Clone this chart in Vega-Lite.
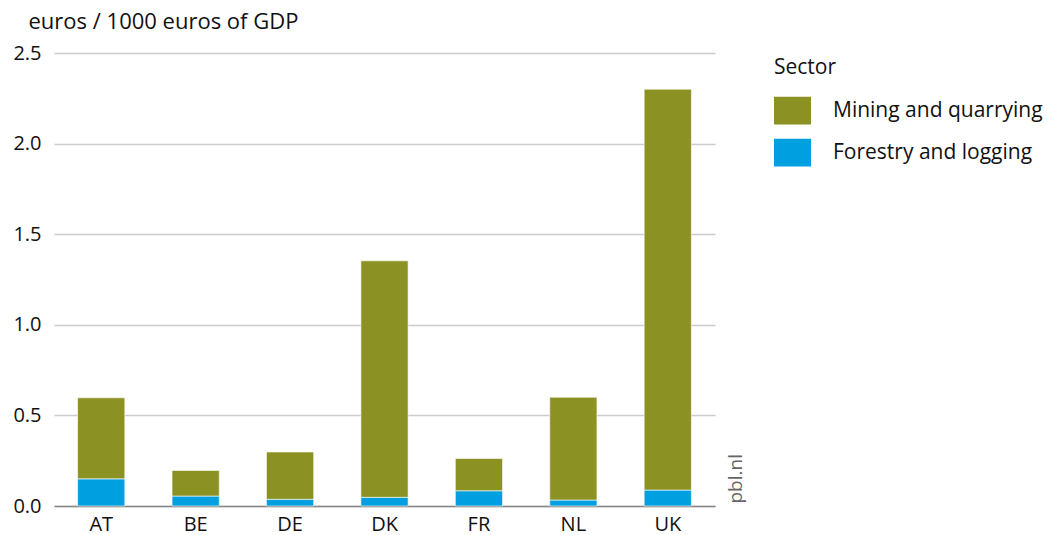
{
  "$schema": "https://vega.github.io/schema/vega-lite/v6.json",
  "width": 661,
  "height": 453,
  "autosize": {"type": "none"},
  "padding": {"left": 54, "top": 53, "right": 332, "bottom": 29},
  "background": "white",
  "config": {
    "font": "Open Sans",
    "view": {"stroke": null}
  },
  "data": {
    "values": [
      {"country": "AT", "sector": "Forestry and logging", "value": 0.15},
      {"country": "AT", "sector": "Mining and quarrying", "value": 0.447},
      {"country": "BE", "sector": "Forestry and logging", "value": 0.055},
      {"country": "BE", "sector": "Mining and quarrying", "value": 0.141},
      {"country": "DE", "sector": "Forestry and logging", "value": 0.037},
      {"country": "DE", "sector": "Mining and quarrying", "value": 0.261},
      {"country": "DK", "sector": "Forestry and logging", "value": 0.048},
      {"country": "DK", "sector": "Mining and quarrying", "value": 1.305},
      {"country": "FR", "sector": "Forestry and logging", "value": 0.084},
      {"country": "FR", "sector": "Mining and quarrying", "value": 0.178},
      {"country": "NL", "sector": "Forestry and logging", "value": 0.033},
      {"country": "NL", "sector": "Mining and quarrying", "value": 0.567},
      {"country": "UK", "sector": "Forestry and logging", "value": 0.088},
      {"country": "UK", "sector": "Mining and quarrying", "value": 2.212}
    ]
  },
  "layer": [
    {
      "mark": {"type": "bar", "stroke": "white", "strokeWidth": 0.6},
      "encoding": {
        "x": {
          "field": "country",
          "type": "nominal",
          "sort": ["AT", "BE", "DE", "DK", "FR", "NL", "UK"],
          "scale": {"paddingInner": 0.5, "paddingOuter": 0.25},
          "axis": {
            "title": null,
            "labelAngle": 0,
            "labelFontSize": 20,
            "labelColor": "#111",
            "labelPadding": 8,
            "ticks": false,
            "domainColor": "#888",
            "domainWidth": 1.5
          }
        },
        "y": {
          "field": "value",
          "type": "quantitative",
          "stack": "zero",
          "scale": {"domain": [0, 2.5]},
          "axis": {
            "values": [0, 0.5, 1, 1.5, 2, 2.5],
            "format": ".1f",
            "title": "euros / 1000 euros of GDP",
            "titleAngle": 0,
            "titleAlign": "left",
            "titleBaseline": "middle",
            "titleX": -26,
            "titleY": -32,
            "titleFontSize": 22,
            "titleFontWeight": "normal",
            "titleColor": "#111",
            "labelFontSize": 20,
            "labelColor": "#111",
            "labelPadding": 13,
            "ticks": false,
            "domain": false,
            "gridColor": "#cccccc",
            "gridWidth": 1.5
          }
        },
        "color": {
          "field": "sector",
          "type": "nominal",
          "scale": {
            "domain": ["Mining and quarrying", "Forestry and logging"],
            "range": ["#8b9123", "#009fdf"]
          },
          "legend": {
            "title": "Sector",
            "orient": "none",
            "legendX": 720,
            "legendY": 4,
            "titleFontSize": 21,
            "titleFontWeight": "normal",
            "titleColor": "#111",
            "titlePadding": 14,
            "labelFontSize": 21,
            "labelLimit": 400,
            "labelColor": "#111",
            "labelOffset": 22,
            "symbolType": "M-1,-0.75H1V0.75H-1Z",
            "symbolSize": 1369,
            "symbolStrokeWidth": 0,
            "symbolOpacity": 1,
            "rowPadding": 9
          }
        },
        "order": {"field": "sector", "sort": "ascending"}
      }
    },
    {
      "mark": {"type": "rule", "opacity": 0},
      "encoding": {
        "y": {
          "field": "value",
          "type": "quantitative",
          "scale": {"domain": [0, 2.5]},
          "axis": {
            "orient": "right",
            "title": "pbl.nl",
            "titleAngle": 270,
            "titleAlign": "left",
            "titleBaseline": "middle",
            "titleY": 450,
            "titleX": 20,
            "titleFontSize": 19,
            "titleFontWeight": "normal",
            "titleColor": "#666",
            "labels": false,
            "ticks": false,
            "domain": false,
            "grid": false
          }
        }
      }
    }
  ],
  "resolve": {"scale": {"y": "independent"}}
}
